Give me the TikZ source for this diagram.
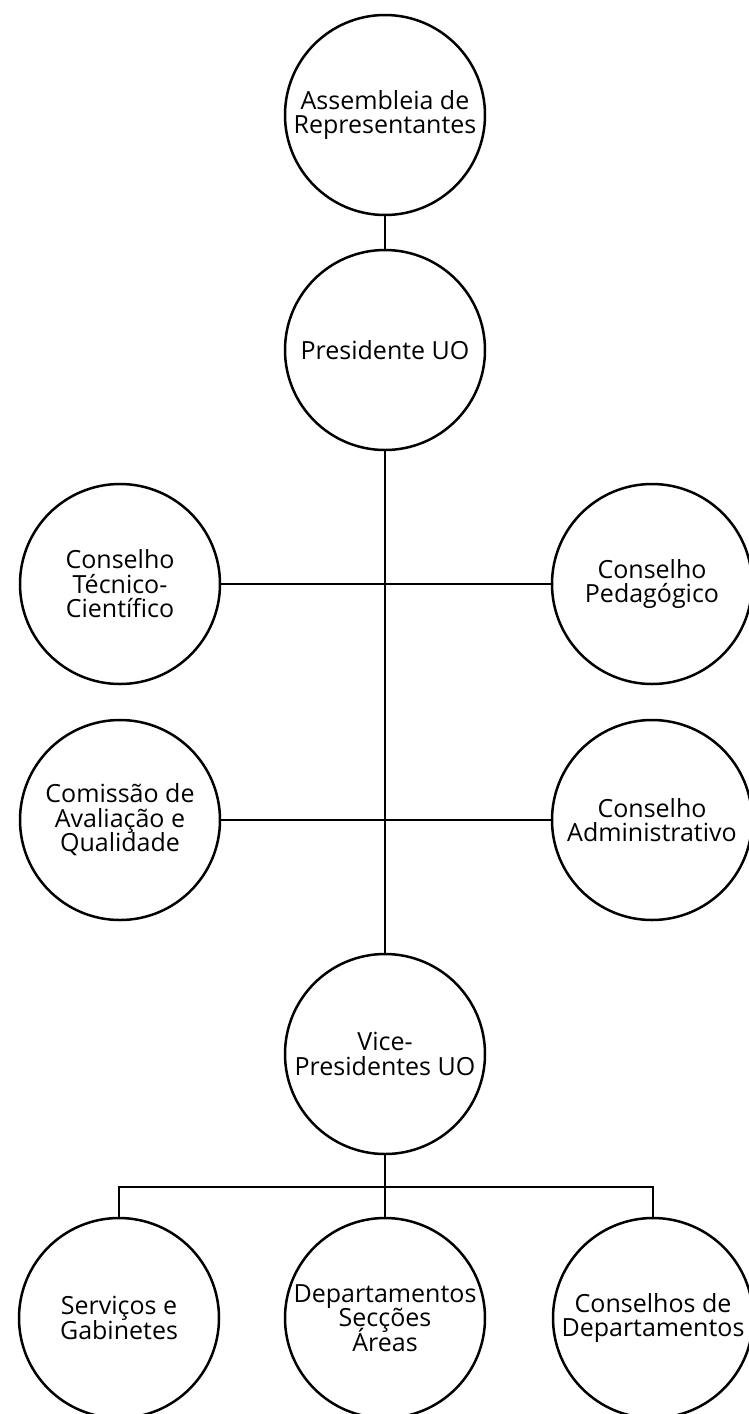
\documentclass[tikz,border=0pt]{standalone}
\usepackage{fontspec}
\setmainfont{Open Sans}
\newcommand\orgfont{\fontsize{25}{24.5}\selectfont\lineskiplimit=-20pt\relax\lineskip=0pt\relax}
\begin{document}
\begin{tikzpicture}[x=1pt,y=-1pt,
  org/.style={circle,draw=black,line width=2.5pt,minimum size=200pt,inner sep=0pt,
    align=center,font=\orgfont,text=black},
  link/.style={draw=black,line width=2.1pt}]
\useasboundingbox (0,0) rectangle (748,1414);
\node[org] (asm) at (385,115) {Assembleia de\\Representantes};
\node[org] (pres) at (385,350) {Presidente UO};
\node[org] (ctc) at (120,584) {Conselho\\Técnico-\\Científico};
\node[org] (cped) at (652,584) {Conselho\\Pedagógico};
\node[org] (caq) at (120,820) {Comissão de\\Avaliação e\\Qualidade};
\node[org] (cadm) at (652,820) {Conselho\\Administrativo};
\node[org] (vice) at (385,1054) {Vice-\\Presidentes UO};
\node[org] (serv) at (119,1318) {Serviços e\\Gabinetes};
\node[org] (dep) at (385,1318) {Departamentos\\Secções\\Áreas};
\node[org] (cdep) at (653,1318) {Conselhos de\\Departamentos};
\coordinate (bar) at (385,1187);
\draw[link] (asm.south) -- (pres.north);
\draw[link] (pres.south) -- (vice.north);
\draw[link] (ctc.east) -- (cped.west);
\draw[link] (caq.east) -- (cadm.west);
\draw[link] (vice.south) -- (dep.north);
\draw[link] (serv.north) |- (bar) -| (cdep.north);
\end{tikzpicture}
\end{document}
